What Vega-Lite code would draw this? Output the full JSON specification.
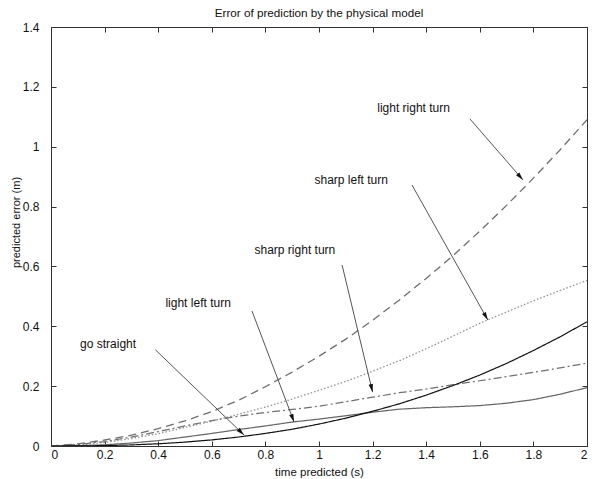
{
  "$schema": "https://vega.github.io/schema/vega-lite/v6.json",
  "width": 536,
  "height": 419,
  "autosize": "none",
  "padding": {"left": 51, "top": 27, "right": 16, "bottom": 33},
  "background": "white",
  "title": {"text": "Error of prediction by the physical model", "fontSize": 11.7, "fontWeight": "normal", "font": "Liberation Sans", "color": "#111", "offset": 1},
  "config": {
    "view": {"stroke": "#333", "strokeWidth": 1},
    "axis": {"grid": false, "domain": false, "labelFont": "Liberation Sans", "labelFontSize": 12, "labelColor": "#111", "titleFont": "Liberation Sans", "titleFontSize": 11.5, "titleFontWeight": "normal", "titleColor": "#111", "tickColor": "#333", "tickSize": -5, "labelPadding": 10}
  },
  "datasets": {
    "curves": [
      {"t": 0, "v": 0, "s": "dashed"}, {"t": 0.1, "v": 0.007, "s": "dashed"}, {"t": 0.2, "v": 0.02, "s": "dashed"}, {"t": 0.3, "v": 0.036, "s": "dashed"}, {"t": 0.4, "v": 0.058, "s": "dashed"}, {"t": 0.5, "v": 0.084, "s": "dashed"}, {"t": 0.6, "v": 0.115, "s": "dashed"}, {"t": 0.7, "v": 0.153, "s": "dashed"}, {"t": 0.8, "v": 0.198, "s": "dashed"}, {"t": 0.9, "v": 0.247, "s": "dashed"}, {"t": 1.0, "v": 0.3, "s": "dashed"}, {"t": 1.1, "v": 0.357, "s": "dashed"}, {"t": 1.2, "v": 0.42, "s": "dashed"}, {"t": 1.3, "v": 0.488, "s": "dashed"}, {"t": 1.4, "v": 0.56, "s": "dashed"}, {"t": 1.5, "v": 0.636, "s": "dashed"}, {"t": 1.6, "v": 0.718, "s": "dashed"}, {"t": 1.7, "v": 0.804, "s": "dashed"}, {"t": 1.8, "v": 0.895, "s": "dashed"}, {"t": 1.9, "v": 0.99, "s": "dashed"}, {"t": 2.0, "v": 1.09, "s": "dashed"},
      {"t": 0, "v": 0, "s": "dotted"}, {"t": 0.1, "v": 0.003, "s": "dotted"}, {"t": 0.2, "v": 0.012, "s": "dotted"}, {"t": 0.3, "v": 0.025, "s": "dotted"}, {"t": 0.4, "v": 0.041, "s": "dotted"}, {"t": 0.5, "v": 0.062, "s": "dotted"}, {"t": 0.6, "v": 0.083, "s": "dotted"}, {"t": 0.7, "v": 0.106, "s": "dotted"}, {"t": 0.8, "v": 0.13, "s": "dotted"}, {"t": 0.9, "v": 0.157, "s": "dotted"}, {"t": 1.0, "v": 0.186, "s": "dotted"}, {"t": 1.1, "v": 0.216, "s": "dotted"}, {"t": 1.2, "v": 0.25, "s": "dotted"}, {"t": 1.3, "v": 0.285, "s": "dotted"}, {"t": 1.4, "v": 0.325, "s": "dotted"}, {"t": 1.5, "v": 0.367, "s": "dotted"}, {"t": 1.6, "v": 0.41, "s": "dotted"}, {"t": 1.7, "v": 0.448, "s": "dotted"}, {"t": 1.8, "v": 0.485, "s": "dotted"}, {"t": 1.9, "v": 0.52, "s": "dotted"}, {"t": 2.0, "v": 0.553, "s": "dotted"},
      {"t": 0, "v": 0, "s": "dashdot"}, {"t": 0.1, "v": 0.005, "s": "dashdot"}, {"t": 0.2, "v": 0.015, "s": "dashdot"}, {"t": 0.3, "v": 0.03, "s": "dashdot"}, {"t": 0.4, "v": 0.048, "s": "dashdot"}, {"t": 0.5, "v": 0.067, "s": "dashdot"}, {"t": 0.6, "v": 0.085, "s": "dashdot"}, {"t": 0.7, "v": 0.1, "s": "dashdot"}, {"t": 0.8, "v": 0.112, "s": "dashdot"}, {"t": 0.9, "v": 0.122, "s": "dashdot"}, {"t": 1.0, "v": 0.133, "s": "dashdot"}, {"t": 1.1, "v": 0.148, "s": "dashdot"}, {"t": 1.2, "v": 0.163, "s": "dashdot"}, {"t": 1.3, "v": 0.178, "s": "dashdot"}, {"t": 1.4, "v": 0.19, "s": "dashdot"}, {"t": 1.5, "v": 0.205, "s": "dashdot"}, {"t": 1.6, "v": 0.218, "s": "dashdot"}, {"t": 1.7, "v": 0.232, "s": "dashdot"}, {"t": 1.8, "v": 0.246, "s": "dashdot"}, {"t": 1.9, "v": 0.261, "s": "dashdot"}, {"t": 2.0, "v": 0.277, "s": "dashdot"},
      {"t": 0, "v": 0, "s": "thin"}, {"t": 0.1, "v": 0.001, "s": "thin"}, {"t": 0.2, "v": 0.004, "s": "thin"}, {"t": 0.3, "v": 0.01, "s": "thin"}, {"t": 0.4, "v": 0.018, "s": "thin"}, {"t": 0.5, "v": 0.03, "s": "thin"}, {"t": 0.6, "v": 0.042, "s": "thin"}, {"t": 0.7, "v": 0.055, "s": "thin"}, {"t": 0.8, "v": 0.067, "s": "thin"}, {"t": 0.9, "v": 0.08, "s": "thin"}, {"t": 1.0, "v": 0.09, "s": "thin"}, {"t": 1.1, "v": 0.101, "s": "thin"}, {"t": 1.2, "v": 0.113, "s": "thin"}, {"t": 1.3, "v": 0.123, "s": "thin"}, {"t": 1.4, "v": 0.128, "s": "thin"}, {"t": 1.5, "v": 0.131, "s": "thin"}, {"t": 1.6, "v": 0.135, "s": "thin"}, {"t": 1.7, "v": 0.143, "s": "thin"}, {"t": 1.8, "v": 0.155, "s": "thin"}, {"t": 1.9, "v": 0.173, "s": "thin"}, {"t": 2.0, "v": 0.195, "s": "thin"},
      {"t": 0, "v": 0, "s": "thick"}, {"t": 0.1, "v": 0.0002, "s": "thick"}, {"t": 0.2, "v": 0.0013, "s": "thick"}, {"t": 0.3, "v": 0.0036, "s": "thick"}, {"t": 0.4, "v": 0.0074, "s": "thick"}, {"t": 0.5, "v": 0.013, "s": "thick"}, {"t": 0.6, "v": 0.0204, "s": "thick"}, {"t": 0.7, "v": 0.03, "s": "thick"}, {"t": 0.8, "v": 0.042, "s": "thick"}, {"t": 0.9, "v": 0.056, "s": "thick"}, {"t": 1.0, "v": 0.0733, "s": "thick"}, {"t": 1.1, "v": 0.093, "s": "thick"}, {"t": 1.2, "v": 0.116, "s": "thick"}, {"t": 1.3, "v": 0.141, "s": "thick"}, {"t": 1.4, "v": 0.17, "s": "thick"}, {"t": 1.5, "v": 0.202, "s": "thick"}, {"t": 1.6, "v": 0.237, "s": "thick"}, {"t": 1.7, "v": 0.276, "s": "thick"}, {"t": 1.8, "v": 0.319, "s": "thick"}, {"t": 1.9, "v": 0.365, "s": "thick"}, {"t": 2.0, "v": 0.415, "s": "thick"}
    ],
    "notes": [
      {"label": "light right turn", "tx": 1.353, "ty": 1.13, "x1": 1.563, "y1": 1.093, "x2": 1.761, "y2": 0.889, "heading": 139},
      {"label": "sharp left turn", "tx": 1.12, "ty": 0.889, "x1": 1.347, "y1": 0.872, "x2": 1.63, "y2": 0.421, "heading": 150.6},
      {"label": "sharp right turn", "tx": 0.91, "ty": 0.655, "x1": 1.086, "y1": 0.605, "x2": 1.2, "y2": 0.18, "heading": 166.7},
      {"label": "light left turn", "tx": 0.549, "ty": 0.478, "x1": 0.75, "y1": 0.451, "x2": 0.907, "y2": 0.08, "heading": 159.3},
      {"label": "go straight", "tx": 0.213, "ty": 0.341, "x1": 0.39, "y1": 0.321, "x2": 0.72, "y2": 0.037, "heading": 134}
    ]
  },
  "resolve": {"axis": {"x": "independent", "y": "independent"}},
  "layer": [
    {
      "data": {"name": "curves"},
      "mark": {"type": "line", "clip": true},
      "encoding": {
        "x": {"field": "t", "type": "quantitative", "scale": {"domain": [0, 2], "nice": false, "zero": false}, "axis": {"orient": "bottom", "values": [0, 0.2, 0.4, 0.6, 0.8, 1, 1.2, 1.4, 1.6, 1.8, 2], "format": "~g", "title": "time predicted (s)", "labelPadding": 8, "titlePadding": 6}},
        "y": {"field": "v", "type": "quantitative", "scale": {"domain": [0, 1.4], "nice": false}, "axis": {"orient": "left", "values": [0, 0.2, 0.4, 0.6, 0.8, 1, 1.2, 1.4], "format": "~g", "title": "predicted error (m)", "titleY": 195, "titleX": -30, "titleFontSize": 11, "labelPadding": 17}},
        "detail": {"field": "s"},
        "color": {"field": "s", "type": "nominal", "legend": null, "scale": {"domain": ["dashed", "dotted", "dashdot", "thin", "thick"], "range": ["#6e6e6e", "#8f8f8f", "#707070", "#666666", "#111111"]}},
        "strokeDash": {"field": "s", "type": "nominal", "legend": null, "scale": {"domain": ["dashed", "dotted", "dashdot", "thin", "thick"], "range": [[8, 5], [1.5, 2], [8, 3, 2, 3], [1, 0], [1, 0]]}},
        "strokeWidth": {"field": "s", "type": "nominal", "legend": null, "scale": {"domain": ["dashed", "dotted", "dashdot", "thin", "thick"], "range": [1.3, 1.2, 1.2, 1, 2.6]}}
      }
    },
    {
      "data": {"name": "curves"},
      "mark": {"type": "point", "opacity": 0},
      "encoding": {
        "x": {"field": "t", "type": "quantitative", "axis": {"orient": "top", "values": [0, 0.2, 0.4, 0.6, 0.8, 1, 1.2, 1.4, 1.6, 1.8, 2], "labels": false, "title": null}},
        "y": {"field": "v", "type": "quantitative", "axis": {"orient": "right", "values": [0, 0.2, 0.4, 0.6, 0.8, 1, 1.2, 1.4], "labels": false, "title": null}}
      }
    },
    {
      "data": {"name": "notes"},
      "mark": {"type": "rule", "color": "#555", "strokeWidth": 1},
      "encoding": {
        "x": {"field": "x1", "type": "quantitative", "axis": null},
        "y": {"field": "y1", "type": "quantitative", "axis": null},
        "x2": {"field": "x2"},
        "y2": {"field": "y2"}
      }
    },
    {
      "data": {"name": "notes"},
      "mark": {"type": "point", "shape": "M0,0L-0.55,2L0.55,2Z", "filled": true, "color": "#111", "size": 64, "opacity": 1},
      "encoding": {
        "x": {"field": "x2", "type": "quantitative", "axis": null},
        "y": {"field": "y2", "type": "quantitative", "axis": null},
        "angle": {"field": "heading", "type": "quantitative", "scale": null}
      }
    },
    {
      "data": {"name": "notes"},
      "mark": {"type": "text", "font": "Liberation Sans", "fontSize": 12, "color": "#111", "align": "center", "baseline": "middle"},
      "encoding": {
        "x": {"field": "tx", "type": "quantitative", "axis": null},
        "y": {"field": "ty", "type": "quantitative", "axis": null},
        "text": {"field": "label"}
      }
    }
  ]
}
